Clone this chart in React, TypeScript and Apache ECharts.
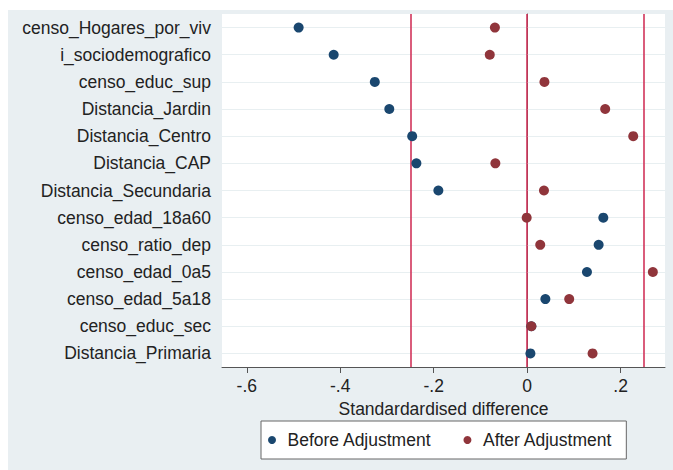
import React, { useEffect, useRef } from "react";
import * as echarts from "echarts";

const categories = [
  "censo_Hogares_por_viv",
  "i_sociodemografico",
  "censo_educ_sup",
  "Distancia_Jardin",
  "Distancia_Centro",
  "Distancia_CAP",
  "Distancia_Secundaria",
  "censo_edad_18a60",
  "censo_ratio_dep",
  "censo_edad_0a5",
  "censo_edad_5a18",
  "censo_educ_sec",
  "Distancia_Primaria",
];

const beforeValues = [-0.489, -0.414, -0.326, -0.295, -0.246, -0.237, -0.19, 0.163, 0.153, 0.128, 0.039, 0.009, 0.007];
const afterValues = [-0.069, -0.08, 0.037, 0.167, 0.227, -0.068, 0.036, -0.001, 0.028, 0.269, 0.09, 0.009, 0.14];

const xTicks = [-0.6, -0.4, -0.2, 0, 0.2];
const refLines = [-0.25, 0, 0.25];

const FONT = "'Liberation Sans', Arial, Helvetica, sans-serif";
const FS = 17.5;

export default function App() {
  const ref = useRef<HTMLDivElement>(null);
  useEffect(() => {
    if (!ref.current) return;
    const chart = echarts.init(ref.current, null, { renderer: "svg" });
    chart.setOption({
      animation: false,
      backgroundColor: "#e9eff2",
      textStyle: { fontFamily: FONT },
      grid: {
        left: 214,
        right: 8,
        top: 4,
        bottom: 103,
        show: true,
        backgroundColor: "#ffffff",
        borderWidth: 0,
      },
      xAxis: {
        type: "value",
        min: -0.653,
        max: 0.295,
        splitNumber: 5,
        name: "Standardardised difference",
        nameLocation: "middle",
        nameGap: 28,
        nameTextStyle: { fontSize: FS, color: "#222", fontFamily: FONT },
        axisLine: { show: true, lineStyle: { color: "#555", width: 1 } },
        axisTick: { show: true, length: 6, customValues: xTicks, lineStyle: { color: "#555" } },
        axisLabel: {
          customValues: xTicks,
          margin: 10,
          fontSize: FS,
          color: "#222",
          fontFamily: FONT,
          formatter: (v: number) => (Math.abs(v) < 1e-9 ? "0" : v.toFixed(1).replace("0.", ".")),
        },
        splitLine: { show: false },
      },
      yAxis: {
        type: "category",
        data: categories,
        inverse: true,
        boundaryGap: true,
        axisLine: { show: true, lineStyle: { color: "#555", width: 1 } },
        axisTick: { show: true, length: 7, alignWithLabel: true, lineStyle: { color: "#555" } },
        axisLabel: {
          margin: 11,
          fontSize: FS,
          color: "#222",
          fontFamily: FONT,
          interval: 0,
        },
        splitLine: { show: false },
      },
      legend: {
        left: 253,
        top: 411,
        orient: "horizontal",
        backgroundColor: "#ffffff",
        borderColor: "#666",
        borderWidth: 1,
        borderRadius: 0,
        padding: [10, 14, 10, 7],
        itemWidth: 21,
        itemHeight: 8,
        itemGap: 32,
        icon: "circle",
        textStyle: { fontSize: FS, color: "#222", fontFamily: FONT },
        data: ["Before Adjustment", "After Adjustment"],
      },
      series: [
        {
          name: "grid",
          type: "line",
          data: [],
          silent: true,
          z: 1,
          markLine: {
            silent: true,
            z: 1,
            symbol: ["none", "none"],
            label: { show: false },
            lineStyle: { color: "#e8eff1", width: 1, type: "solid" },
            data: categories.map((c) => ({ yAxis: c })),
          },
        },
        {
          name: "ref",
          type: "line",
          data: [],
          silent: true,
          z: 2,
          markLine: {
            silent: true,
            z: 2,
            symbol: ["none", "none"],
            label: { show: false },
            lineStyle: { color: "#d1345b", width: 1.6, type: "solid" },
            data: refLines.map((x) => ({ xAxis: x })),
          },
        },
        {
          name: "Before Adjustment",
          type: "scatter",
          symbol: "circle",
          symbolSize: 10,
          z: 3,
          itemStyle: { color: "#1a476f", opacity: 1 },
          data: beforeValues.map((v, i) => [v, i]),
        },
        {
          name: "After Adjustment",
          type: "scatter",
          symbol: "circle",
          symbolSize: 10,
          z: 4,
          itemStyle: { color: "#90353b", opacity: 1 },
          data: afterValues.map((v, i) => [v, i]),
        },
      ],
    });
    return () => chart.dispose();
  }, []);
  return (
    <div
      ref={ref}
      style={{ position: "absolute", left: 8, top: 10, width: 665, height: 460 }}
    />
  );
}
